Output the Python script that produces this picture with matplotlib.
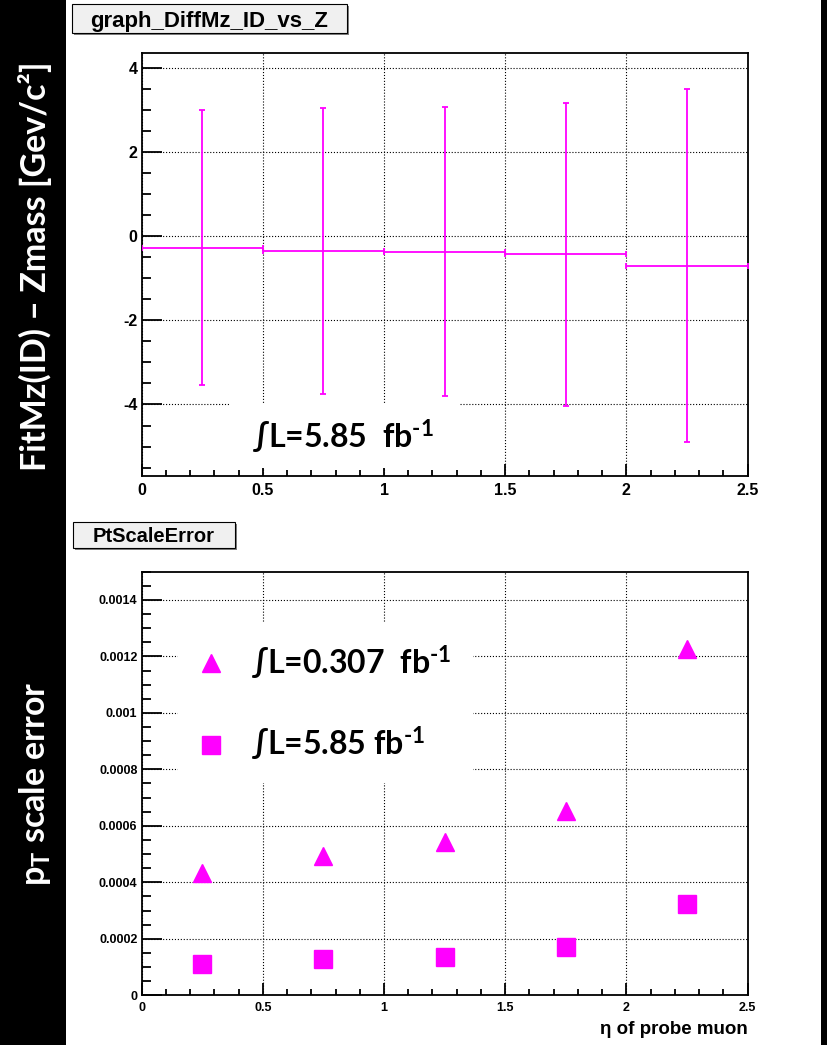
import matplotlib.pyplot as plt
from matplotlib import ticker
from matplotlib.patches import Rectangle

plt.rcParams['font.family'] = ['Liberation Sans', 'DejaVu Sans']
plt.rcParams['font.weight'] = 'bold'
plt.rcParams['mathtext.fontset'] = 'custom'
plt.rcParams['mathtext.rm'] = 'Lato:bold'
plt.rcParams['mathtext.bf'] = 'Lato:bold'
plt.rcParams['mathtext.it'] = 'Lato:bold'

# данные
eta = [0.25, 0.75, 1.25, 1.75, 2.25]
eta_halfwidth = [0.25, 0.25, 0.25, 0.25, 0.25]
diff_mz = [-0.27, -0.35, -0.37, -0.43, -0.70]
diff_mz_err = [3.27, 3.40, 3.43, 3.60, 4.20]

pt_err_0307 = [0.000434, 0.000493, 0.000544, 0.000652, 0.001228]
pt_err_585 = [0.000112, 0.000128, 0.000136, 0.000170, 0.000322]

lumi_top = r'∫L=5.85  fb$^{\text{-1}}$'
label_0307 = r'∫L=0.307  fb$^{\text{-1}}$'
label_585 = r'∫L=5.85 fb$^{\text{-1}}$'

magenta = '#ff00ff'
slide_font = dict(family='Lato', weight='bold')

fig = plt.figure(figsize=(8.27, 10.45), dpi=100)

# черные полосы по краям слайда
fig.patches.append(Rectangle((0, 0), 66 / 827, 1, transform=fig.transFigure,
                             facecolor='black', edgecolor='none', zorder=0))
fig.patches.append(Rectangle((820.5 / 827, 0), 1, 1, transform=fig.transFigure,
                             facecolor='black', edgecolor='none', zorder=0))


def title_box(x0, y0, x1, y1, text, size):
    # серая плашка заголовка в стиле ROOT (координаты в пикселях)
    W, H = 827, 1045
    fig.patches.append(Rectangle(((x0 + 2) / W, 1 - (y1 + 2) / H), (x1 - x0) / W, (y1 - y0) / H,
                                 transform=fig.transFigure, facecolor='#808080',
                                 edgecolor='none', zorder=1))
    fig.patches.append(Rectangle((x0 / W, 1 - y1 / H), (x1 - x0) / W, (y1 - y0) / H,
                                 transform=fig.transFigure, facecolor='#f0f0f0',
                                 edgecolor='black', lw=0.8, zorder=2))
    fig.text((x0 + x1) / 2 / W, 1 - (y0 + y1) / 2 / H, text, ha='center', va='center_baseline',
             fontsize=size, fontweight='bold', zorder=3)


def root_axes(ax, ymajor, yminor, tick_size):
    ax.set_xlim(0, 2.5)
    ax.xaxis.set_major_locator(ticker.MultipleLocator(0.5))
    ax.xaxis.set_minor_locator(ticker.MultipleLocator(0.1))
    ax.yaxis.set_major_locator(ticker.MultipleLocator(ymajor))
    ax.yaxis.set_minor_locator(ticker.MultipleLocator(yminor))
    ax.xaxis.set_major_formatter(ticker.FormatStrFormatter('%g'))
    ax.yaxis.set_major_formatter(ticker.FormatStrFormatter('%g'))
    ax.tick_params(which='both', direction='in', top=False, right=False,
                   width=1.3, labelsize=tick_size)
    ax.tick_params(axis='y', which='major', length=14.4, pad=3)
    ax.tick_params(axis='y', which='minor', length=6.8)
    ax.tick_params(axis='x', which='major', length=9, pad=5)
    ax.tick_params(axis='x', which='minor', length=4.5)
    ax.grid(True, which='major', ls=':', color='black', lw=0.8)
    for s in ax.spines.values():
        s.set_linewidth(1.3)


# верхний график
ax1 = fig.add_axes([0.1713, 0.5445, 0.7326, 0.4051])
root_axes(ax1, 2, 0.5, 11.5)
ax1.set_ylim(-5.7, 4.36)
ax1.errorbar(eta, diff_mz, xerr=eta_halfwidth, yerr=diff_mz_err, fmt='none',
             ecolor=magenta, elinewidth=1.3, capsize=2.5, capthick=1.3, zorder=3)
ax1.add_patch(Rectangle((0.146, 0.019), 0.379, 0.153, transform=ax1.transAxes,
                        facecolor='white', edgecolor='none', zorder=1.8))
ax1.text(0.182, 0.0638, lumi_top, transform=ax1.transAxes, fontsize=23,
         va='baseline', zorder=4, **slide_font)

# нижний график
ax2 = fig.add_axes([0.1713, 0.0476, 0.7326, 0.4053])
root_axes(ax2, 0.0002, 0.00005, 9)
ax2.set_ylim(0, 0.0015)
ax2.plot(eta, pt_err_0307, ls='none', marker='^', ms=13, color=magenta, label=label_0307, zorder=3)
ax2.plot(eta, pt_err_585, ls='none', marker='s', ms=12.5, color=magenta, label=label_585, zorder=3)
ax2.add_patch(Rectangle((0.060, 0.501), 0.487, 0.378, transform=ax2.transAxes,
                        facecolor='white', edgecolor='none', zorder=1.8))
ax2.legend(loc='upper left', bbox_to_anchor=(0.084, 0.83), frameon=False,
           prop=dict(family='Lato', weight='bold', size=23), handlelength=1.15,
           handletextpad=0.68, labelspacing=1.35, borderpad=0, borderaxespad=0)
ax2.set_xlabel('η of probe muon', loc='right', fontsize=13.5, fontweight='bold', labelpad=5)

title_box(71.7, 4, 347, 33, 'graph_DiffMz_ID_vs_Z', 16)
title_box(72.7, 521.7, 234.7, 547.7, 'PtScaleError', 14.5)

# подписи осей на черной полосе
fig.text(35 / 827, 1 - 266 / 1045, 'FitMz(ID) – Zmass [Gev/c²]', rotation=90, color='white',
         fontsize=24.5, ha='center', va='center', **slide_font)
fig.text(35 / 827, 1 - 784 / 1045, 'p$_{T}$ scale error', rotation=90, color='white',
         fontsize=24.5, ha='center', va='center', **slide_font)

fig.savefig('out.png', dpi=100)
